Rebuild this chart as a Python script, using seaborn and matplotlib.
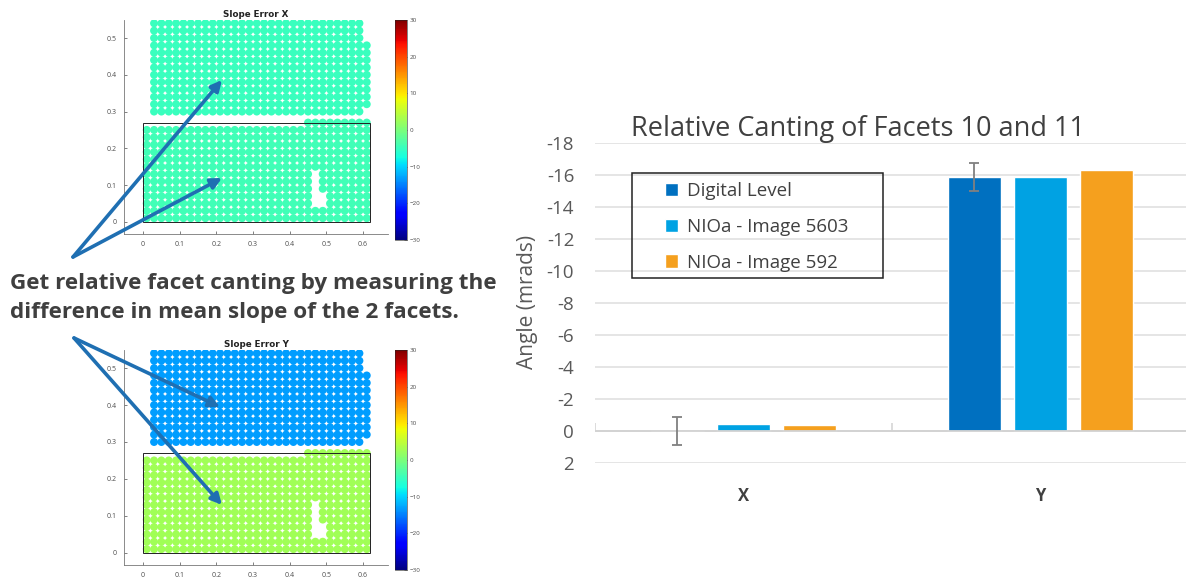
import numpy as np
import pandas as pd
import matplotlib
matplotlib.use("Agg")
import matplotlib.pyplot as plt
import seaborn as sns
from matplotlib.patches import FancyArrowPatch, Rectangle
from matplotlib.colors import Normalize
from matplotlib.cm import ScalarMappable

# ---------------- Bar chart data ----------------
components = ["X", "Y"]
methods = ["Digital Level", "NIOa - Image 5603", "NIOa - Image 592"]
digital_level = [0.0, -15.9]
nioa_5603 = [-0.45, -15.9]
nioa_592 = [-0.38, -16.3]
digital_level_err = [0.85, 0.87]
y_ticks = [-18, -16, -14, -12, -10, -8, -6, -4, -2, 0, 2]
bar_colors = ["#0070C0", "#00A2E3", "#F5A01E"]

# ---------------- Facet slope maps (mrad) ----------------
slope_x_upper = -4.9
slope_x_lower = -4.4
slope_y_upper = -13.3
slope_y_lower = 2.6
upper_cols = [0.03, 0.59]
upper_rows = [0.30, 0.54]
upper_extra_col = 0.61
upper_extra_rows = [0.32, 0.48]
lower_cols = [0.01, 0.61]
lower_rows = [0.01, 0.25]
lower_extra_row = 0.27
lower_extra_cols = [0.45, 0.61]
grid_step = 0.02
map_ticks_x = [0, 0.1, 0.2, 0.3, 0.4, 0.5, 0.6]
map_ticks_y = [0, 0.1, 0.2, 0.3, 0.4, 0.5]
cbar_ticks = [-30, -20, -10, 0, 10, 20, 30]


def span(a, b):
    return np.round(np.arange(a, b + grid_step / 2, grid_step), 3)


def facet_points(upper_val, lower_val):
    rows = []
    for x in span(*upper_cols):
        for y in span(*upper_rows):
            rows.append((x, y, upper_val))
    for y in span(*upper_extra_rows):
        rows.append((upper_extra_col, y, upper_val))
    for x in span(*lower_cols):
        for y in span(*lower_rows):
            hole = (0.46 < x < 0.48 and 0.04 < y < 0.14) or (0.48 < x < 0.50 and 0.04 < y < 0.08)
            if not hole:
                rows.append((x, y, lower_val))
    for x in span(*lower_extra_cols):
        rows.append((x, lower_extra_row, lower_val))
    return pd.DataFrame(rows, columns=["x", "y", "slope"])


W, H = 1186, 579
sns.set_theme(style="white")
plt.rcParams["font.family"] = ["Open Sans", "DejaVu Sans"]
fig = plt.figure(figsize=(W / 100, H / 100), dpi=100)


def fx(px):
    return px / W


def fy(py):
    return 1 - py / H


norm = Normalize(-30, 30)
jet = matplotlib.colormaps["jet"]


def draw_map(top_px, bottom_px, title, upper_val, lower_val):
    ax = fig.add_axes([fx(124), fy(bottom_px), fx(388) - fx(124), fy(top_px) - fy(bottom_px)])
    df = facet_points(upper_val, lower_val)
    sns.scatterplot(data=df, x="x", y="y", hue="slope", palette=jet, hue_norm=norm,
                    legend=False, s=33, linewidth=0, ax=ax)
    ax.set_xlim(-0.052, 0.668)
    ax.set_ylim(-0.033, 0.549)
    ax.set_xticks(map_ticks_x)
    ax.set_xticklabels(["0", "0.1", "0.2", "0.3", "0.4", "0.5", "0.6"])
    ax.set_yticks(map_ticks_y)
    ax.set_yticklabels(["0", "0.1", "0.2", "0.3", "0.4", "0.5"])
    ax.tick_params(labelsize=5, colors="#4d4d4d", direction="in", length=2, width=0.5,
                   bottom=True, left=True, pad=5)
    for s in ["top", "right"]:
        ax.spines[s].set_visible(False)
    for s in ["left", "bottom"]:
        ax.spines[s].set_color("#777777")
        ax.spines[s].set_linewidth(0.6)
    ax.set_xlabel("")
    ax.set_ylabel("")
    ax.set_title(title, fontsize=6.3, fontweight="bold", family="DejaVu Sans", pad=2,
                 color="#222222")
    ax.add_patch(Rectangle((0, 0), 0.62, 0.27, fill=False, edgecolor="#222222", linewidth=0.7))
    cax = fig.add_axes([fx(395), fy(top_px + 220), fx(407) - fx(395), (220) / H])
    cb = fig.colorbar(ScalarMappable(norm=norm, cmap=jet), cax=cax, ticks=cbar_ticks)
    cb.outline.set_linewidth(0.4)
    cax.tick_params(labelsize=4.5, colors="#4d4d4d", direction="in", length=2, width=0.4, pad=2)
    return ax


draw_map(20, 234, "Slope Error X", slope_x_upper, slope_x_lower)
draw_map(350, 565, "Slope Error Y", slope_y_upper, slope_y_lower)

# arrows
arrow_color = "#1F6FB2"
for tail, tip in [((73, 257), (222, 80)), ((73, 257), (222, 178)),
                  ((74, 338), (220, 407)), ((74, 338), (222, 505))]:
    fig.add_artist(FancyArrowPatch((fx(tail[0]), fy(tail[1])), (fx(tip[0]), fy(tip[1])),
                                   transform=fig.transFigure, arrowstyle="-|>",
                                   mutation_scale=16, linewidth=2.6, color=arrow_color,
                                   shrinkA=0, shrinkB=0))

fig.text(fx(10), fy(289), "Get relative facet canting by measuring the", fontsize=16.2,
         fontweight="bold", color="#3f3f3f", ha="left", va="baseline")
fig.text(fx(10), fy(318), "difference in mean slope of the 2 facets.", fontsize=16.2,
         fontweight="bold", color="#3f3f3f", ha="left", va="baseline")

# ---------------- Bar chart ----------------
bar_df = pd.DataFrame({
    "component": components * 3,
    "method": [m for m in methods for _ in components],
    "value": digital_level + nioa_5603 + nioa_592,
})
ax = fig.add_axes([fx(595), fy(463), fx(1189) - fx(595), fy(143) - fy(463)])
sns.barplot(data=bar_df, x="component", y="value", hue="method", hue_order=methods,
            order=components, palette=bar_colors, width=0.667, gap=0.2, errorbar=None,
            saturation=1, ax=ax)
for i, bar in enumerate(ax.containers[0]):
    ax.errorbar(bar.get_x() + bar.get_width() / 2, digital_level[i], yerr=digital_level_err[i],
                fmt="none", ecolor="#808080", elinewidth=1.3, capsize=3.5, capthick=1.3, zorder=5)
ax.set_ylim(2, -18)
ax.set_xlim(-0.5, 1.5)
ax.set_yticks(y_ticks)
ax.set_yticklabels([str(t) for t in y_ticks])
ax.grid(axis="y", color="#DEDEDE", linewidth=1.1)
ax.set_axisbelow(True)
for s in ax.spines.values():
    s.set_visible(False)
ax.axhline(0, color="#D2D2D2", linewidth=1.3, zorder=1)
ax.vlines([-0.5, 0.5, 1.5], 0, -0.5, color="#D2D2D2", linewidth=1.1, zorder=1)
ax.tick_params(axis="y", labelsize=13.5, colors="#595959", length=0, pad=15)
ax.tick_params(axis="x", labelsize=12, colors="#404040", length=0, pad=17)
for lbl in ax.get_xticklabels():
    lbl.set_fontweight("bold")
ax.set_xlabel("")
ax.set_ylabel("")
fig.text(fx(527), fy(302), "Angle (mrads)", rotation=90, fontsize=15, color="#595959",
         ha="center", va="center")
fig.text(fx(858), fy(136), "Relative Canting of Facets 10 and 11", fontsize=19.5,
         color="#404040", ha="center", va="baseline")

handles, labels = ax.get_legend_handles_labels()
ax.legend(handles, labels, loc="upper left", bbox_to_anchor=(fx(665), fy(182)),
          bbox_transform=fig.transFigure, frameon=False, handlelength=0.7, handleheight=0.7,
          handletextpad=0.45, labelspacing=0.95, borderpad=0, borderaxespad=0,
          prop={"family": "Open Sans", "size": 13.5}, labelcolor="#404040")
fig.add_artist(Rectangle((fx(632), fy(278)), fx(883) - fx(632), fy(173) - fy(278),
                         transform=fig.transFigure, fill=False, edgecolor="#222222", linewidth=1.1))

fig.savefig("out.png", dpi=100)
